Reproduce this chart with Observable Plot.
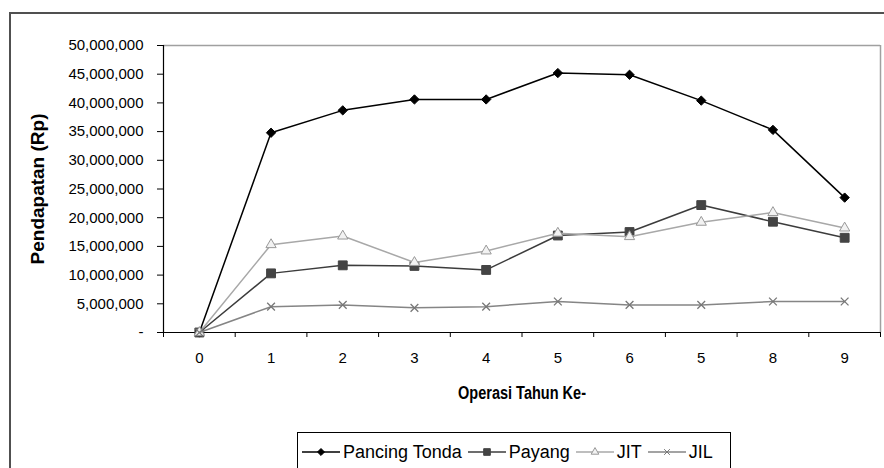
<!DOCTYPE html>
<html><head><meta charset="utf-8">
<script src="https://cdn.jsdelivr.net/npm/d3@7"></script>
<script src="https://cdn.jsdelivr.net/npm/@observablehq/plot@0.6"></script>
<style>
html,body{margin:0;padding:0;background:#fff;}
#wrap{position:relative;width:884px;height:468px;overflow:hidden;font-family:Arial,"Liberation Sans",sans-serif;}
#frame{position:absolute;left:9px;top:12px;width:1000px;height:600px;border-left:2px solid #505050;border-top:2px solid #505050;}
#chart{position:absolute;left:0;top:0;}
#legend{position:absolute;left:297px;top:432px;width:434px;height:60px;border:1.5px solid #000;box-sizing:border-box;display:flex;flex-wrap:nowrap;align-items:flex-start;padding:8px 0 0 4px;font-size:18px;line-height:22px;color:#000;white-space:nowrap;}
.item{display:flex;align-items:center;flex-shrink:0;margin-right:6px;}
.item svg{margin-right:3px;flex-shrink:0;}
</style></head>
<body><div id="wrap"><div id="frame"></div><div id="chart"></div><div id="legend"></div></div>
<script>
const labels = ["0","1","2","3","4","5","6","5","8","9"];
const seriesNames = ["Pancing Tonda","Payang","JIT","JIL"];
const pancingTonda = [0, 34.8e6, 38.7e6, 40.6e6, 40.6e6, 45.2e6, 44.9e6, 40.4e6, 35.3e6, 23.5e6];
const payang = [0, 10.3e6, 11.7e6, 11.6e6, 10.9e6, 16.9e6, 17.5e6, 22.2e6, 19.3e6, 16.5e6];
const jit = [0, 15.3e6, 16.8e6, 12.2e6, 14.2e6, 17.3e6, 16.7e6, 19.2e6, 20.9e6, 18.2e6];
const jil = [0, 4.5e6, 4.8e6, 4.3e6, 4.5e6, 5.4e6, 4.8e6, 4.8e6, 5.4e6, 5.4e6];
const yTicks = [0,5e6,10e6,15e6,20e6,25e6,30e6,35e6,40e6,45e6,50e6];

const styles = [
  {name: seriesNames[0], values: pancingTonda, line:"#000", symbol:"diamond2", r:4.2, fill:"#000", stroke:"#000"},
  {name: seriesNames[1], values: payang, line:"#3c3c3c", symbol:"square", r:5, fill:"#444", stroke:"#444"},
  {name: seriesNames[2], values: jit, line:"#a8a8a8", symbol:"triangle", r:3.8, fill:"#f2f2f2", stroke:"#999"},
  {name: seriesNames[3], values: jil, line:"#858585", symbol:"times", r:3.6, fill:"none", stroke:"#777"}
];

const idx = labels.map((_, i) => i);
const bounds = d3.range(labels.length + 1).map(i => i - 0.5);
const fmt = d3.format(",");

const marks = [
  Plot.ruleY([50e6], {stroke:"#a0a0a0", strokeWidth:1.5}),
  Plot.ruleX([labels.length - 0.5], {stroke:"#a0a0a0", strokeWidth:1.5}),
  Plot.axisY({ticks: yTicks, tickSize: 6, tickPadding: 14, tickFormat: d => d === 0 ? "-" : fmt(d),
    label: "Pendapatan (Rp)", labelAnchor: "center", labelArrow: "none", labelOffset: 133}),
  Plot.axisX({ticks: bounds, tickSize: 5, tickFormat: () => "", label: null}),
  Plot.axisX({ticks: idx, tickSize: 0, tickPadding: 20, tickFormat: i => labels[i],
    label: "Operasi Tahun Ke-", labelAnchor: "center", labelArrow: "none", labelOffset: 66}),
  Plot.ruleX([-0.5], {stroke:"#000", strokeWidth:1.2}),
  Plot.ruleY([0], {stroke:"#000", strokeWidth:1.2})
];
for (const s of styles) {
  const rows = s.values.map((v, i) => ({i, v}));
  marks.push(Plot.line(rows, {x:"i", y:"v", stroke:s.line, strokeWidth:1.5}));
  marks.push(Plot.dot(rows, {x:"i", y:"v", symbol:s.symbol, r:s.r, fill:s.fill, stroke:s.stroke, strokeWidth: s.symbol === "times" ? 1.3 : 1}));
}

const chart = Plot.plot({
  width: 884, height: 420,
  marginLeft: 163, marginRight: 4, marginTop: 45, marginBottom: 88,
  style: {fontFamily: "Arial, 'Liberation Sans', sans-serif", fontSize: "15px", color: "#000", background: "transparent", overflow: "visible"},
  x: {type: "linear", domain: [-0.5, labels.length - 0.5]},
  y: {domain: [0, 50e6]},
  marks
});
document.getElementById("chart").appendChild(chart);

// axis titles: bold
d3.select(chart).selectAll("g[aria-label='y-axis label'] text")
  .style("font-weight", "bold").style("font-size", "19px");
d3.select(chart).selectAll("g[aria-label='x-axis label'] text")
  .style("font-weight", "bold").style("font-size", "18px")
  .attr("textLength", 128).attr("lengthAdjust", "spacingAndGlyphs");

// legend
const symMap = {diamond2: d3.symbolDiamond2, square: d3.symbolSquare, triangle: d3.symbolTriangle, times: d3.symbolTimes};
const legend = d3.select("#legend");
for (const s of styles) {
  const item = legend.append("div").attr("class", "item");
  const svg = item.append("svg").attr("width", 38).attr("height", 14);
  svg.append("line").attr("x1", 0).attr("x2", 38).attr("y1", 7).attr("y2", 7).attr("stroke", s.line).attr("stroke-width", 1.5);
  svg.append("path").attr("transform", "translate(19,7)")
    .attr("d", d3.symbol(symMap[s.symbol], Math.PI * (s.r * 0.75) ** 2)())
    .attr("fill", s.fill).attr("stroke", s.stroke);
  item.append("span").text(s.name);
}
</script></body></html>
